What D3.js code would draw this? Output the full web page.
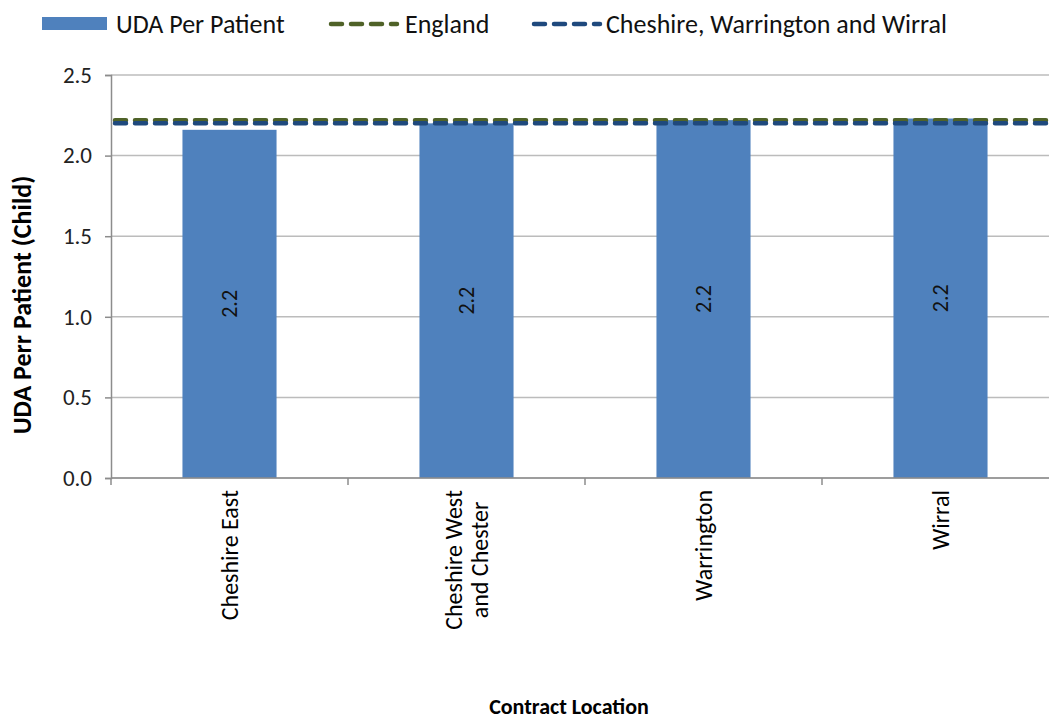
<!DOCTYPE html>
<html>
<head>
<meta charset="utf-8">
<script src="https://cdn.jsdelivr.net/npm/d3@7"></script>
<style>
  body { margin: 0; background: #fff; }
  text { font-family: Carlito, Calibri, "Liberation Sans", Arial, sans-serif; fill: #000; }
</style>
</head>
<body>
<div id="chart"></div>
<script>
// data
const categories = ["Cheshire East", "Cheshire West and Chester", "Warrington", "Wirral"];
const categoryLines = [["Cheshire East"], ["Cheshire West", "and Chester"], ["Warrington"], ["Wirral"]];
const udaPerPatient = [2.16, 2.20, 2.22, 2.23];
const englandValue = 2.22;
const cwwValue = 2.20;
const yTicks = [0, 0.5, 1.0, 1.5, 2.0, 2.5];
const legendLabels = ["UDA Per Patient", "England", "Cheshire, Warrington and Wirral"];

const width = 1049, height = 722;
const plot = { left: 111, right: 1059, top: 75, bottom: 478 };

const svg = d3.select("#chart").append("svg")
  .attr("width", width)
  .attr("height", height);

const x = d3.scaleBand()
  .domain(categories)
  .range([plot.left, plot.right])
  .paddingInner(0.603)
  .paddingOuter(0.3015);

const y = d3.scaleLinear()
  .domain([0, 2.5])
  .range([plot.bottom, plot.top]);

// gridlines
svg.append("g")
  .selectAll("line")
  .data(yTicks)
  .enter().append("line")
  .attr("x1", plot.left).attr("x2", plot.right)
  .attr("y1", d => y(d)).attr("y2", d => y(d))
  .style("stroke", "#bcbcbc")
  .style("stroke-width", 1.5);

// y axis
const yAxis = svg.append("g")
  .attr("transform", `translate(${plot.left},0)`)
  .call(d3.axisLeft(y).tickValues(yTicks).tickFormat(d3.format(".1f")).tickSize(6).tickPadding(13));
yAxis.select(".domain").style("stroke", "#8c8c8c").style("stroke-width", 1.5);
yAxis.selectAll(".tick line").style("stroke", "#8c8c8c").style("stroke-width", 1.5);
yAxis.selectAll(".tick text")
  .style("font-size", "23px")
  .style("font-family", "Carlito, Calibri, 'Liberation Sans', Arial, sans-serif")
  .style("fill", "#222");

// bars
svg.append("g")
  .selectAll("rect")
  .data(udaPerPatient)
  .enter().append("rect")
  .attr("x", (d, i) => x(categories[i]))
  .attr("width", x.bandwidth())
  .attr("y", d => y(d))
  .attr("height", d => y(0) - y(d))
  .style("fill", "#4f81bd");

// bar labels
svg.append("g")
  .selectAll("text")
  .data(udaPerPatient)
  .enter().append("text")
  .attr("transform", (d, i) => `translate(${x(categories[i]) + x.bandwidth() / 2},${(y(d) + y(0)) / 2}) rotate(-90)`)
  .attr("text-anchor", "middle")
  .attr("dy", "0.35em")
  .style("font-size", "22px")
  .style("fill", "#111")
  .text(d => d3.format(".1f")(d));

// x axis line and ticks at band edges
svg.append("line")
  .attr("x1", plot.left).attr("x2", plot.right)
  .attr("y1", y(0)).attr("y2", y(0))
  .style("stroke", "#8c8c8c").style("stroke-width", 1.5);

const step = x.step();
svg.append("g")
  .selectAll("line")
  .data(d3.range(categories.length + 1))
  .enter().append("line")
  .attr("x1", i => plot.left + i * step).attr("x2", i => plot.left + i * step)
  .attr("y1", y(0)).attr("y2", y(0) + 7)
  .style("stroke", "#8c8c8c").style("stroke-width", 1.5);

// x tick labels, rotated, centred block under each bar
const labelTop = 490;
categories.forEach((c, i) => {
  const cx = x(c) + x.bandwidth() / 2;
  const lines = categoryLines[i];
  const g = svg.append("g");
  const texts = lines.map(l => g.append("text")
    .style("font-size", "24px")
    .attr("text-anchor", "middle")
    .text(l));
  const maxLen = d3.max(texts, t => t.node().getComputedTextLength());
  const lh = 26;
  texts.forEach((t, k) => {
    const off = (k - (lines.length - 1) / 2) * lh;
    t.attr("transform", `translate(${cx + off},${labelTop + maxLen / 2}) rotate(-90)`)
      .attr("dy", "0.35em");
  });
});

// reference lines
const refLines = [
  { value: englandValue, color: "#4f6228" },
  { value: cwwValue, color: "#1f497d" }
];
svg.append("g")
  .selectAll("line")
  .data(refLines)
  .enter().append("line")
  .attr("x1", plot.left + 4).attr("x2", plot.right)
  .attr("y1", d => y(d.value)).attr("y2", d => y(d.value))
  .style("stroke", d => d.color)
  .style("stroke-width", 4.5)
  .style("stroke-dasharray", "11,9")
  .style("stroke-linecap", "round");

// axis titles
svg.append("text")
  .attr("transform", `translate(22,305) rotate(-90)`)
  .attr("text-anchor", "middle")
  .attr("dy", "0.35em")
  .style("font-size", "26px")
  .style("font-weight", "bold")
  .text("UDA Perr Patient (Child)");

svg.append("text")
  .attr("x", 569)
  .attr("y", 706)
  .attr("text-anchor", "middle")
  .attr("dy", "0.35em")
  .style("font-size", "22px")
  .style("font-weight", "bold")
  .text("Contract Location");

// legend
const legend = svg.append("g");
legend.append("rect")
  .attr("x", 42).attr("y", 17).attr("width", 65).attr("height", 13)
  .style("fill", "#4f81bd");
legend.append("text").attr("x", 116).attr("y", 24).attr("dy", "0.35em")
  .style("font-size", "26px").style("fill", "#111").text(legendLabels[0]);

legend.append("line")
  .attr("x1", 331).attr("x2", 397).attr("y1", 24).attr("y2", 24)
  .style("stroke", "#4f6228").style("stroke-width", 4.5)
  .style("stroke-dasharray", "11,9").style("stroke-linecap", "round");
legend.append("text").attr("x", 405).attr("y", 24).attr("dy", "0.35em")
  .style("font-size", "26px").style("fill", "#111").text(legendLabels[1]);

legend.append("line")
  .attr("x1", 534).attr("x2", 600).attr("y1", 24).attr("y2", 24)
  .style("stroke", "#1f497d").style("stroke-width", 4.5)
  .style("stroke-dasharray", "11,9").style("stroke-linecap", "round");
legend.append("text").attr("x", 606).attr("y", 24).attr("dy", "0.35em")
  .style("font-size", "26px").style("fill", "#111").text(legendLabels[2]);
</script>
</body>
</html>
